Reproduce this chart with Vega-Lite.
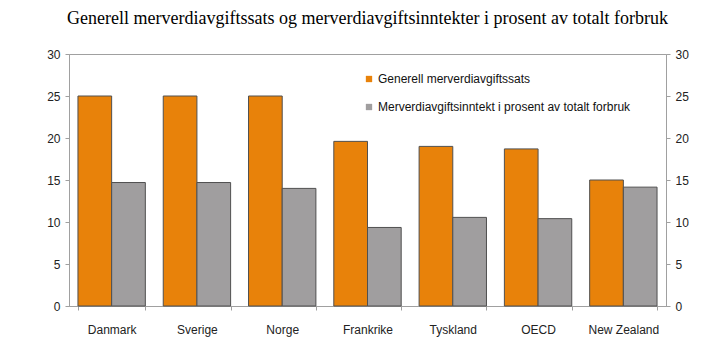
{
  "$schema": "https://vega.github.io/schema/vega-lite/v6.json",
  "width": 597,
  "height": 252,
  "autosize": {"type": "none"},
  "padding": {"left": 69, "top": 54, "right": 57, "bottom": 35},
  "background": "white",
  "title": {
    "text": "Generell merverdiavgiftssats og merverdiavgiftsinntekter i prosent av totalt forbruk",
    "font": "Liberation Serif",
    "fontSize": 18,
    "fontWeight": "normal",
    "color": "#000000",
    "anchor": "middle",
    "baseline": "alphabetic",
    "offset": 6
  },
  "config": {
    "view": {"stroke": "#a0a0a0", "strokeWidth": 1},
    "axis": {
      "domainColor": "#a0a0a0",
      "tickColor": "#a0a0a0",
      "tickSize": 4,
      "grid": false,
      "labelFont": "Liberation Sans",
      "labelFontSize": 12,
      "labelColor": "#222222",
      "title": null
    },
    "legend": {
      "labelFont": "Liberation Sans",
      "labelFontSize": 12,
      "labelColor": "#111111",
      "labelLimit": 0
    }
  },
  "data": {
    "values": [
      {"land": "Danmark", "serie": "Generell merverdiavgiftssats", "verdi": 25},
      {"land": "Danmark", "serie": "Merverdiavgiftsinntekt i prosent av totalt forbruk", "verdi": 14.7},
      {"land": "Sverige", "serie": "Generell merverdiavgiftssats", "verdi": 25},
      {"land": "Sverige", "serie": "Merverdiavgiftsinntekt i prosent av totalt forbruk", "verdi": 14.7},
      {"land": "Norge", "serie": "Generell merverdiavgiftssats", "verdi": 25},
      {"land": "Norge", "serie": "Merverdiavgiftsinntekt i prosent av totalt forbruk", "verdi": 14.0},
      {"land": "Frankrike", "serie": "Generell merverdiavgiftssats", "verdi": 19.6},
      {"land": "Frankrike", "serie": "Merverdiavgiftsinntekt i prosent av totalt forbruk", "verdi": 9.35},
      {"land": "Tyskland", "serie": "Generell merverdiavgiftssats", "verdi": 19},
      {"land": "Tyskland", "serie": "Merverdiavgiftsinntekt i prosent av totalt forbruk", "verdi": 10.55},
      {"land": "OECD", "serie": "Generell merverdiavgiftssats", "verdi": 18.7},
      {"land": "OECD", "serie": "Merverdiavgiftsinntekt i prosent av totalt forbruk", "verdi": 10.4},
      {"land": "New Zealand", "serie": "Generell merverdiavgiftssats", "verdi": 15},
      {"land": "New Zealand", "serie": "Merverdiavgiftsinntekt i prosent av totalt forbruk", "verdi": 14.15}
    ]
  },
  "layer": [
    {
      "mark": {"type": "bar", "stroke": "#505050", "strokeWidth": 1},
      "encoding": {
        "x": {
          "field": "land",
          "type": "nominal",
          "sort": ["Danmark", "Sverige", "Norge", "Frankrike", "Tyskland", "OECD", "New Zealand"],
          "scale": {"paddingInner": 0.21, "paddingOuter": 0.105},
          "axis": {"labelAngle": 0, "tickBand": "extent", "labelPadding": 14, "domain": true}
        },
        "xOffset": {
          "field": "serie",
          "type": "nominal",
          "sort": ["Generell merverdiavgiftssats", "Merverdiavgiftsinntekt i prosent av totalt forbruk"],
          "scale": {"paddingInner": 0, "paddingOuter": 0}
        },
        "y": {
          "field": "verdi",
          "type": "quantitative",
          "scale": {"domain": [0, 30], "nice": false},
          "axis": {"orient": "left", "values": [0, 5, 10, 15, 20, 25, 30], "labelPadding": 5}
        },
        "color": {
          "field": "serie",
          "type": "nominal",
          "scale": {
            "domain": ["Generell merverdiavgiftssats", "Merverdiavgiftsinntekt i prosent av totalt forbruk"],
            "range": ["#E8820A", "#A09E9F"]
          },
          "legend": {
            "title": null,
            "orient": "none",
            "legendX": 294,
            "legendY": 19,
            "symbolType": "square",
            "symbolSize": 40,
            "symbolStrokeWidth": 0,
            "labelOffset": 3,
            "rowPadding": 16,
            "padding": 0
          }
        }
      }
    },
    {
      "mark": {"type": "rule", "opacity": 0},
      "encoding": {
        "y": {
          "field": "verdi",
          "type": "quantitative",
          "scale": {"domain": [0, 30], "nice": false},
          "axis": {"orient": "right", "values": [0, 5, 10, 15, 20, 25, 30], "labelPadding": 5}
        }
      }
    }
  ],
  "resolve": {"axis": {"y": "independent"}}
}
